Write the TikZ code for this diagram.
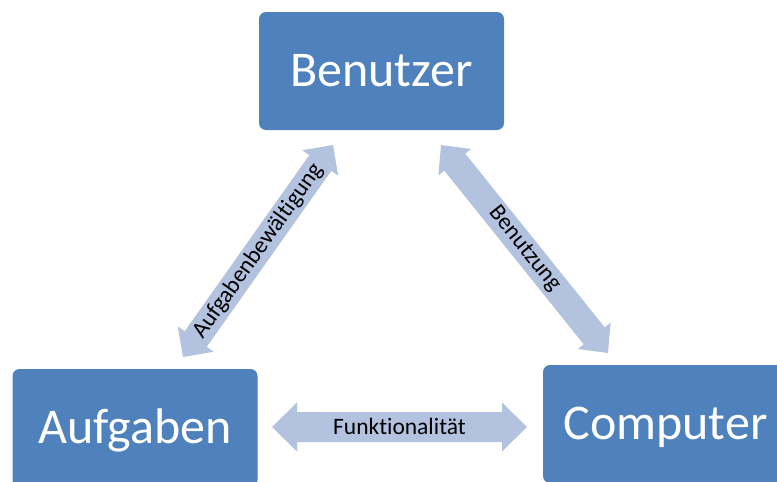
\documentclass[tikz,border=0pt]{standalone}
\usepackage{fontspec}
\setmainfont{Carlito}[Ligatures=NoCommon]
\usetikzlibrary{calc}

\definecolor{boxblue}{HTML}{4F81BD}
\definecolor{arrowblue}{HTML}{B3C3DF}

% filled double-headed block arrow between two named tip coordinates
% #1 tail tip, #2 head tip, #3 head length, #4 head half-width, #5 shaft half-width
\newcommand{\dblarrow}[5]{%
  \fill[arrowblue]
    (#1)
    -- ($(#1)!#3!(#2)!#4!90:(#2)$)
    -- ($(#1)!#3!(#2)!#5!90:(#2)$)
    -- ($(#2)!#3!(#1)!#5!-90:(#1)$)
    -- ($(#2)!#3!(#1)!#4!-90:(#1)$)
    -- (#2)
    -- ($(#2)!#3!(#1)!#4!90:(#1)$)
    -- ($(#2)!#3!(#1)!#5!90:(#1)$)
    -- ($(#1)!#3!(#2)!#5!-90:(#2)$)
    -- ($(#1)!#3!(#2)!#4!-90:(#2)$)
    -- cycle;}

\begin{document}
\begin{tikzpicture}[x=1pt,y=-1pt,
  box/.style={fill=boxblue, rounded corners=7pt, minimum width=245pt,
    minimum height=118pt, inner sep=0pt, text=white,
    font=\fontsize{50}{52}\selectfont, text height=30pt, text depth=0pt},
  arrowlabel/.style={font=\fontsize{23.5}{25}\selectfont, text=black, inner sep=0pt}]

\useasboundingbox (0,0) rectangle (777,482);
\clip (0,0) rectangle (777,482);

% the three boxes
\node[box] (benutzer) at (381.5,71) {Benutzer};
\node[box] (aufgaben) at (135,428) {Aufgaben};
\node[box] (computer) at (665.5,424) {Computer};

% arrow tips
\coordinate (au1) at (183,357);
\coordinate (au2) at (333,145);
\coordinate (be1) at (441,145);
\coordinate (be2) at (608,353);
\coordinate (fu1) at (272,427);
\coordinate (fu2) at (527,427);

% block arrows
\dblarrow{au1}{au2}{22pt}{22pt}{13.5pt}
\dblarrow{be1}{be2}{22pt}{21pt}{13.5pt}
\dblarrow{fu1}{fu2}{25pt}{24.5pt}{15pt}

% labels on the arrows
\path (au1) -- (au2) node[midway, sloped, arrowlabel] (lau) {Aufgabenbewältigung};
\path (be1) -- (be2) node[midway, sloped, arrowlabel] (lbe) {Benutzung};
\path (fu1) -- (fu2) node[midway, arrowlabel, text height=15pt, text depth=0pt] (lfu) {Funktionalität};
\end{tikzpicture}
\end{document}
